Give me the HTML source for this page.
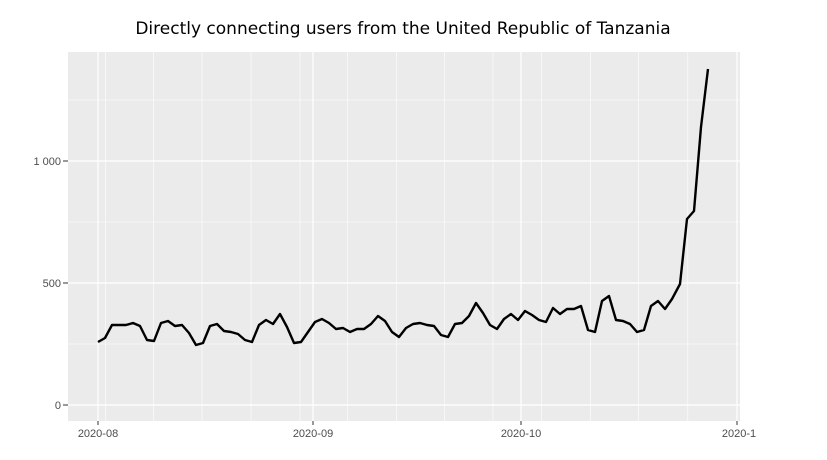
<!DOCTYPE html>
<html><head><meta charset="utf-8"><style>body{margin:0;background:#fff}</style></head><body>
<svg width="827" height="455" viewBox="0 0 827 455" xmlns="http://www.w3.org/2000/svg" font-family="Liberation Sans, DejaVu Sans, sans-serif">
<rect width="827" height="455" fill="#fff"/>
<text x="403" y="34" text-anchor="middle" font-size="17" fill="#000" font-family="DejaVu Sans, sans-serif">Directly connecting users from the United Republic of Tanzania</text>
<rect x="68" y="52" width="672" height="369" fill="#ebebeb"/>
<g stroke="#fff" stroke-width="0.6">
<line x1="68" x2="740" y1="344" y2="344"/><line x1="68" x2="740" y1="222" y2="222"/><line x1="68" x2="740" y1="100" y2="100"/>
<line x1="105.5" x2="105.5" y1="52" y2="421"/><line x1="153.5" x2="153.5" y1="52" y2="421"/><line x1="202" x2="202" y1="52" y2="421"/><line x1="251" x2="251" y1="52" y2="421"/><line x1="300" x2="300" y1="52" y2="421"/><line x1="347.6" x2="347.6" y1="52" y2="421"/><line x1="396.6" x2="396.6" y1="52" y2="421"/><line x1="444.6" x2="444.6" y1="52" y2="421"/><line x1="493" x2="493" y1="52" y2="421"/><line x1="541.7" x2="541.7" y1="52" y2="421"/><line x1="590.7" x2="590.7" y1="52" y2="421"/><line x1="638.7" x2="638.7" y1="52" y2="421"/><line x1="687.8" x2="687.8" y1="52" y2="421"/>
</g>
<g stroke="#fff" stroke-width="1.2">
<line x1="68" x2="740" y1="405" y2="405"/><line x1="68" x2="740" y1="283" y2="283"/><line x1="68" x2="740" y1="161" y2="161"/>
<line x1="98" x2="98" y1="52" y2="421"/><line x1="313" x2="313" y1="52" y2="421"/><line x1="521" x2="521" y1="52" y2="421"/><line x1="737" x2="737" y1="52" y2="421"/>
</g>
<polyline fill="none" stroke="#000" stroke-width="2.4" stroke-linejoin="round" points="98,342 105,338 112,325 119,325 126,325 133,323 140,326 147,340 154,341 161,323 168,321 175,326 182,325 189,333 196,345 203,343 210,326 217,324 224,331 231,332 238,334 245,340 252,342 259,325 266,320 273,324 280,314 287,327 294,343 301,342 308,332 315,322 322,319 329,323 336,329 343,328 350,332 357,329 364,329 371,324 378,316 385,321 392,332 399,337 406,328 413,324 420,323 427,325 434,326 441,335 448,337 455,324 462,323 469,316 476,303 483,313 490,325 497,329 504,319 511,314 518,320 525,311 532,315 539,320 546,322 553,308 560,314 567,309 574,309 581,306 588,330 595,332 602,301 609,296 616,320 623,321 630,324 637,332 644,330 651,306 658,301 665,309 672,299 680,284 687,219 694,211 701,127 708,69"/>
<g stroke="#333" stroke-width="1">
<line x1="63" x2="68" y1="405" y2="405"/><line x1="63" x2="68" y1="283" y2="283"/><line x1="63" x2="68" y1="161" y2="161"/>
<line x1="98" x2="98" y1="421" y2="425"/><line x1="313" x2="313" y1="421" y2="425"/><line x1="521" x2="521" y1="421" y2="425"/><line x1="737" x2="737" y1="421" y2="425"/>
</g>
<g font-size="11" fill="#4d4d4d">
<text x="61" y="409" text-anchor="end">0</text><text x="61" y="287" text-anchor="end">500</text><text x="61" y="165" text-anchor="end">1 000</text>
<text x="98" y="437" text-anchor="middle">2020-08</text><text x="313" y="437" text-anchor="middle">2020-09</text><text x="521" y="437" text-anchor="middle">2020-10</text><text x="739" y="437" text-anchor="middle">2020-1</text>
</g>
</svg>
</body></html>
